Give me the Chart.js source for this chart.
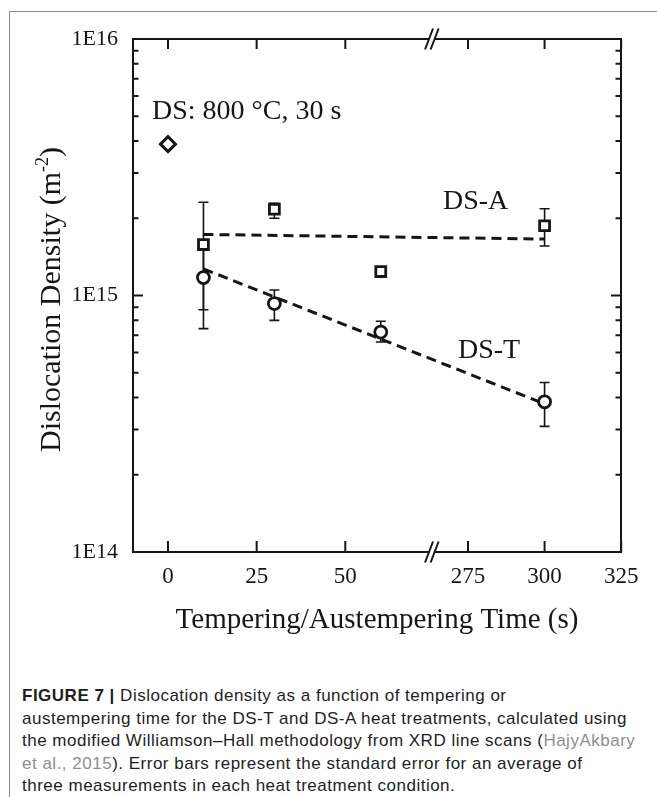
<!DOCTYPE html>
<html>
<head>
<meta charset="utf-8">
<script src="https://cdn.jsdelivr.net/npm/chart.js@4.4.1/dist/chart.umd.min.js"></script>
<style>
  html, body { margin: 0; padding: 0; background: #fff; }
  body { width: 657px; height: 797px; position: relative; overflow: hidden; }
  .frame { position: absolute; left: 9px; top: 10.5px; right: -2px; bottom: -2px;
    border-top: 1.5px solid #8a8a8a; border-left: 1.5px solid #8a8a8a; }
  .plot { position: absolute; left: 0; top: 0; width: 657px; height: 660px; }
  .caption { position: absolute; left: 22px; top: 685px; white-space: nowrap;
    font: 17px "Liberation Sans", Arial, sans-serif; letter-spacing: 0.5px;
    line-height: 22.6px; color: #1e1e1e; }
  .caption .ref { color: #8e8e8e; }
</style>
</head>
<body>
<div class="frame"></div>
<div class="plot"><canvas id="chart"></canvas></div>
<div class="caption">
  <b>FIGURE 7 |</b> Dislocation density as a function of tempering or<br>
  austempering time for the DS-T and DS-A heat treatments, calculated using<br>
  the modified Williamson–Hall methodology from XRD line scans (<span class="ref">HajyAkbary</span><br>
  <span class="ref">et al., 2015</span>). Error bars represent the standard error for an average of<br>
  three measurements in each heat treatment condition.
</div>
<script>
// as-quenched DS reference point
const dsTime = [0];
const dsDensity = [3.89e15];

// DS-A (austempered)
const dsaTime = [10, 30, 60, 300];
const dsaDensity = [1.58e15, 2.17e15, 1.24e15, 1.87e15];
const dsaUpper = [2.31e15, 2.29e15, 1.28e15, 2.18e15];
const dsaLower = [8.8e14, 2.0e15, 1.2e15, 1.56e15];

// DS-T (tempered)
const dstTime = [10, 30, 60, 300];
const dstDensity = [1.175e15, 9.3e14, 7.2e14, 3.85e14];
const dstUpper = [1.53e15, 1.05e15, 7.94e14, 4.58e14];
const dstLower = [7.43e14, 8.0e14, 6.59e14, 3.09e14];

// dashed trend lines
const fitTime = [10, 300];
const dsaFit = [1.73e15, 1.66e15];
const dstFit = [1.27e15, 3.78e14];

const xTicks = [0, 25, 50, 275, 300, 325];
const yTicks = [1e14, 1e15, 1e16];
const yTickLabels = ["1E14", "1E15", "1E16"];

// broken time axis: 50..275 s is cut out, right part is a bit tighter
const BREAK_POS = 74.4;
function axisX(t) {
  return t <= 100 ? t : 84.6 + (t - 275) * 0.864;
}

const serif = '"Liberation Serif", "Times New Roman", serif';
const ink = "#161616";

function points(times, values) {
  return times.map((t, i) => ({ x: axisX(t), y: values[i] }));
}

function drawErrorBars(ctx, xs, ys, times, lo, hi) {
  times.forEach((t, i) => {
    const px = xs.getPixelForValue(axisX(t));
    const top = ys.getPixelForValue(hi[i]);
    const bot = ys.getPixelForValue(lo[i]);
    ctx.beginPath();
    ctx.moveTo(px, top);
    ctx.lineTo(px, bot);
    ctx.moveTo(px - 5, top);
    ctx.lineTo(px + 5, top);
    ctx.moveTo(px - 5, bot);
    ctx.lineTo(px + 5, bot);
    ctx.stroke();
  });
}

const decor = {
  id: "decor",
  beforeDatasetsDraw(chart) {
    const { ctx, scales } = chart;
    ctx.save();
    ctx.strokeStyle = ink;
    ctx.lineWidth = 1.6;
    drawErrorBars(ctx, scales.x, scales.y, dsaTime, dsaLower, dsaUpper);
    drawErrorBars(ctx, scales.x, scales.y, dstTime, dstLower, dstUpper);
    ctx.restore();
  },
  afterDraw(chart) {
    const { ctx, chartArea: a, scales } = chart;
    const xs = scales.x, ys = scales.y;
    ctx.save();
    ctx.strokeStyle = ink;
    ctx.lineWidth = 2;
    ctx.strokeRect(a.left, a.top, a.right - a.left, a.bottom - a.top);

    // ticks, all pointing inward
    ctx.beginPath();
    xTicks.forEach((t) => {
      const px = xs.getPixelForValue(axisX(t));
      ctx.moveTo(px, a.bottom);
      ctx.lineTo(px, a.bottom - 11);
      ctx.moveTo(px, a.top);
      ctx.lineTo(px, a.top + 10);
    });
    yTicks.forEach((v) => {
      const py = ys.getPixelForValue(v);
      ctx.moveTo(a.left, py);
      ctx.lineTo(a.left + 10, py);
      ctx.moveTo(a.right, py);
      ctx.lineTo(a.right - 10, py);
    });
    [1e14, 1e15].forEach((d) => {
      for (let m = 2; m <= 9; m++) {
        const py = ys.getPixelForValue(m * d);
        ctx.moveTo(a.left, py);
        ctx.lineTo(a.left + 5.5, py);
        ctx.moveTo(a.right, py);
        ctx.lineTo(a.right - 5.5, py);
      }
    });
    ctx.stroke();

    // axis break marks
    const bx = xs.getPixelForValue(BREAK_POS);
    [a.top, a.bottom].forEach((y0) => {
      ctx.fillStyle = "#fff";
      ctx.fillRect(bx - 2.8, y0 - 2, 5.6, 4);
      ctx.beginPath();
      [-2.8, 2.8].forEach((dx) => {
        ctx.moveTo(bx + dx - 4, y0 + 10.5);
        ctx.lineTo(bx + dx + 4, y0 - 10.5);
      });
      ctx.lineWidth = 2;
      ctx.stroke();
    });

    // axis titles
    ctx.fillStyle = ink;
    ctx.textBaseline = "alphabetic";
    ctx.font = "29px " + serif;
    ctx.textAlign = "center";
    ctx.fillText("Tempering/Austempering Time (s)", (a.left + a.right) / 2, 628);

    ctx.save();
    ctx.translate(60, (a.top + a.bottom) / 2 + 4);
    ctx.rotate(-Math.PI / 2);
    ctx.textAlign = "left";
    const main = "Dislocation Density (m";
    ctx.font = "30px " + serif;
    const wMain = ctx.measureText(main).width;
    const wClose = ctx.measureText(")").width;
    ctx.font = "18px " + serif;
    const wSup = ctx.measureText("-2").width;
    let cx = -(wMain + wSup + wClose) / 2;
    ctx.font = "30px " + serif;
    ctx.fillText(main, cx, 0);
    cx += wMain;
    ctx.font = "18px " + serif;
    ctx.fillText("-2", cx, -12);
    cx += wSup;
    ctx.font = "30px " + serif;
    ctx.fillText(")", cx, 0);
    ctx.restore();

    // labels inside the plot
    ctx.textAlign = "left";
    ctx.font = "28px " + serif;
    ctx.fillText("DS: 800 \u00B0C, 30 s", 152, 119);
    ctx.fillText("DS-A", 443, 209);
    ctx.fillText("DS-T", 458, 358);
    ctx.restore();
  }
};

const marker = { backgroundColor: "#fff", borderColor: ink, showLine: false, order: 0 };
const trend = { borderColor: ink, borderWidth: 3, borderDash: [10, 6], pointRadius: 0, showLine: true, fill: false, order: 1 };

new Chart(document.getElementById("chart"), {
  type: "scatter",
  data: {
    datasets: [
      { ...trend, label: "DS-A fit", data: points(fitTime, dsaFit) },
      { ...trend, label: "DS-T fit", data: points(fitTime, dstFit) },
      { ...marker, label: "DS", data: points(dsTime, dsDensity), pointStyle: "rectRot", pointRadius: 7.5, borderWidth: 3 },
      { ...marker, label: "DS-A", data: points(dsaTime, dsaDensity), pointStyle: "rect", pointRadius: 7, borderWidth: 2.8 },
      { ...marker, label: "DS-T", data: points(dstTime, dstDensity), pointStyle: "circle", pointRadius: 6, borderWidth: 2.8 },
    ],
  },
  options: {
    responsive: true,
    maintainAspectRatio: false,
    animation: false,
    layout: { padding: { left: 0, right: 36, top: 39, bottom: 0 } },
    plugins: { legend: { display: false }, tooltip: { enabled: false } },
    scales: {
      x: {
        type: "linear",
        min: -9.87,
        max: 127.75,
        grid: { display: false, drawTicks: false },
        border: { display: false },
        afterBuildTicks: (s) => { s.ticks = xTicks.map((t) => ({ value: axisX(t) })); },
        afterFit: (s) => { s.height = 108; },
        ticks: {
          autoSkip: false,
          maxRotation: 0,
          padding: 11,
          color: ink,
          font: { family: serif, size: 23 },
          callback: (v, i) => String(xTicks[i]),
        },
      },
      y: {
        type: "logarithmic",
        min: 1e14,
        max: 1e16,
        grid: { display: false, drawTicks: false },
        border: { display: false },
        afterBuildTicks: (s) => { s.ticks = yTicks.map((v) => ({ value: v })); },
        afterFit: (s) => { s.width = 133; },
        ticks: {
          padding: 15,
          color: ink,
          font: { family: serif, size: 22 },
          callback: (v, i) => yTickLabels[i],
        },
      },
    },
  },
  plugins: [decor],
});
</script>
</body>
</html>
